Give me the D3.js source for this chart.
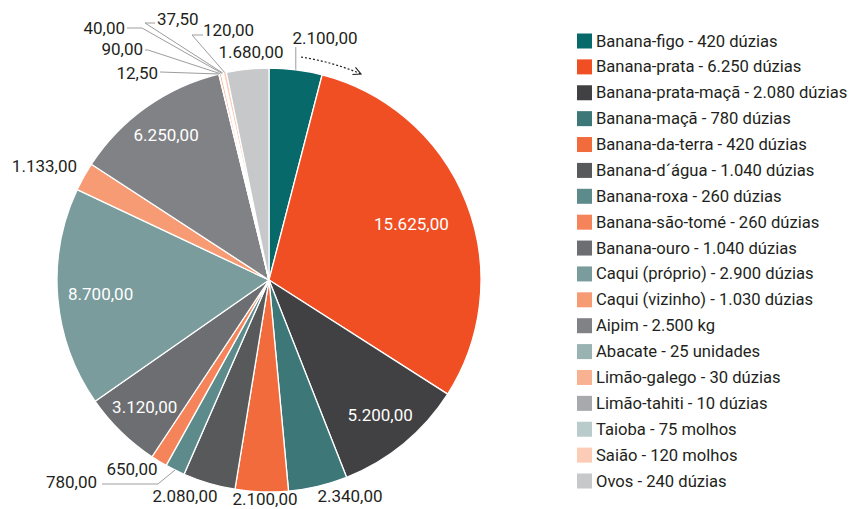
<!DOCTYPE html>
<html><head><meta charset="utf-8">
<script src="https://cdn.jsdelivr.net/npm/d3@7"></script>
<style>
body{margin:0;background:#fff}
text{font-family:Roboto, "Liberation Sans", sans-serif}
</style>
</head><body>
<svg id="chart" width="850" height="509"></svg>
<script>
// ---- data ----
const categories = ["Banana-figo","Banana-prata","Banana-prata-maçã","Banana-maçã","Banana-da-terra","Banana-d´água","Banana-roxa","Banana-são-tomé","Banana-ouro","Caqui (próprio)","Caqui (vizinho)","Aipim","Abacate","Limão-galego","Limão-tahiti","Taioba","Saião","Ovos"];
const quantities = ["420 dúzias","6.250 dúzias","2.080 dúzias","780 dúzias","420 dúzias","1.040 dúzias","260 dúzias","260 dúzias","1.040 dúzias","2.900 dúzias","1.030 dúzias","2.500 kg","25 unidades","30 dúzias","10 dúzias","75 molhos","120 molhos","240 dúzias"];
const values = [2100,15625,5200,2340,2100,2080,780,650,3120,8700,1133,6250,12.5,90,40,37.5,120,1680];
const colors = ["#08696a","#f04f24","#414042","#3e7778","#f26b3d","#58595b","#5d8a8b","#f5845b","#6d6e71","#7a9c9d","#f79b74","#808285","#99b3b3","#f9b291","#a7a9ac","#b9cbca","#fcccb6","#c7c8ca"];

// ---- layout (positions only) ----
const W = 850, H = 509, cx = 269, cy = 280, R = 212;
const insideRadius = {1:153, 2:175, 8:178, 9:169, 11:178};
const outside = {
  0:{x:325,y:44,a:"middle",pts:[[296,47]]},
  3:{x:350,y:502,a:"middle",pts:[]},
  4:{x:265,y:505,a:"middle",pts:[]},
  5:{x:185,y:502,a:"middle",pts:[]},
  6:{x:97,y:488,a:"end",pts:[[158,484],[102,484]]},
  7:{x:132,y:475,a:"middle",pts:[]},
  10:{x:77,y:172,a:"end",pts:[]},
  12:{x:158,y:79,a:"end",pts:[[160,72]]},
  13:{x:143,y:55,a:"end",pts:[[148,50],[145,50]]},
  14:{x:125,y:34,a:"end",pts:[[142,28],[127,28]]},
  15:{x:157,y:25,a:"start",pts:[[145,23],[155,23]]},
  16:{x:203,y:36,a:"start",pts:[[192,35],[203,35]]},
  17:{x:251,y:58,a:"middle",pts:[]}
};

const fmt = d3.formatLocale({decimal:",",thousands:".",grouping:[3],currency:["R$",""]}).format(",.2f");

const svg = d3.select("#chart");
const g = svg.append("g").attr("transform",`translate(${cx},${cy})`);

const pie = d3.pie().sort(null).value(d=>d)(values);
const arc = d3.arc().innerRadius(0).outerRadius(R);

g.selectAll("path.slice").data(pie).join("path")
  .attr("class","slice")
  .attr("d",arc)
  .attr("fill",(d,i)=>colors[i])
  .attr("stroke","#fff").attr("stroke-width",1.3).attr("stroke-linejoin","round");

// inside labels
pie.forEach((d,i)=>{
  if(insideRadius[i]===undefined) return;
  const a=(d.startAngle+d.endAngle)/2, r=insideRadius[i];
  g.append("text").attr("x",r*Math.sin(a)).attr("y",-r*Math.cos(a)+6)
    .attr("text-anchor","middle").attr("fill","#fff").attr("font-size",17)
    .text(fmt(values[i]));
});

// outside labels + leaders
const root = svg.append("g");
pie.forEach((d,i)=>{
  const o = outside[i]; if(!o) return;
  const a=(d.startAngle+d.endAngle)/2;
  const p0=[cx+R*Math.sin(a), cy-R*Math.cos(a)];
  if(o.pts.length){
    let pts=[p0,...o.pts];
    if(i===0) pts=[p0,[p0[0],o.pts[0][1]]];
    root.append("path").attr("d",d3.line()(pts))
      .attr("fill","none").attr("stroke","#9d9d9d").attr("stroke-width",1);
  }
  root.append("text").attr("x",o.x).attr("y",o.y).attr("text-anchor",o.a)
    .attr("fill","#231f20").attr("font-size",17).text(fmt(values[i]));
});

// direction arrow
svg.append("defs").append("marker").attr("id","arr").attr("viewBox","0 0 10 10")
  .attr("refX",9).attr("refY",5).attr("markerWidth",8).attr("markerHeight",8)
  .attr("orient","auto").append("path").attr("d","M1,1 L9,5 L1,9")
  .attr("fill","none").attr("stroke","#231f20").attr("stroke-width",1.2);
svg.append("path").attr("d","M301,57 Q333,62 361,74").attr("fill","none")
  .attr("stroke","#231f20").attr("stroke-width",1.2).attr("stroke-dasharray","2,2")
  .attr("marker-end","url(#arr)");

// legend
const lg = svg.append("g");
const rowY = d3.scalePoint().domain(d3.range(categories.length)).range([41,481]);
categories.forEach((c,i)=>{
  const y=rowY(i);
  lg.append("rect").attr("x",577).attr("y",y-7.5).attr("width",15).attr("height",15).attr("fill",colors[i]);
  lg.append("text").attr("x",596).attr("y",y+5.5).attr("font-size",16.6).attr("fill","#231f20")
    .text(`${c} - ${quantities[i]}`);
});
</script>
</body></html>
